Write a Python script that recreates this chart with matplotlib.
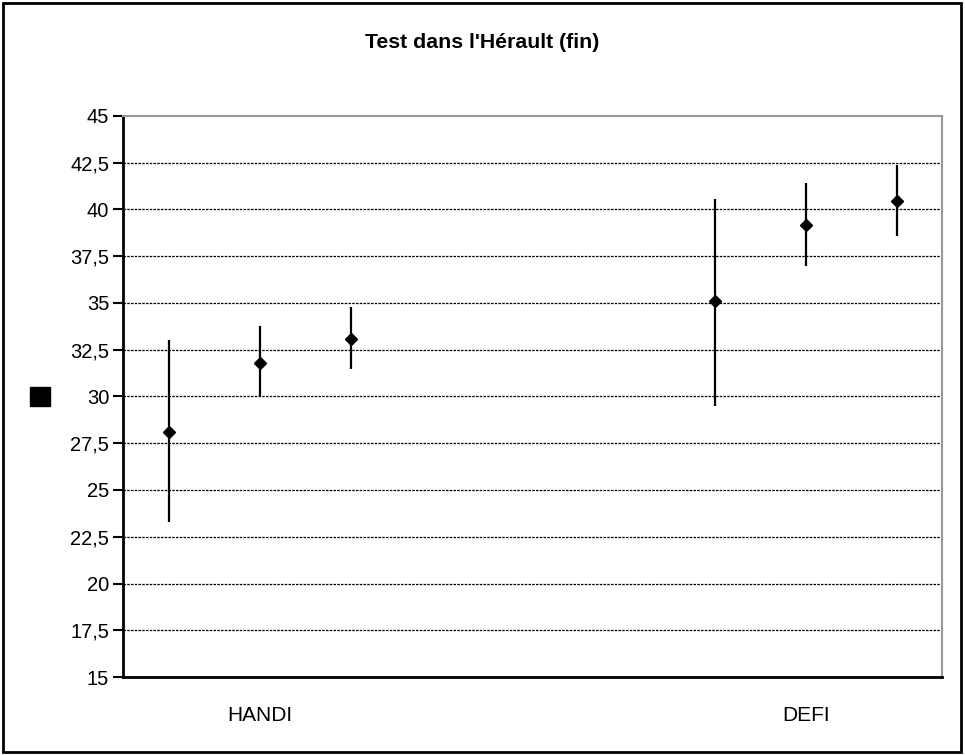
import numpy as np
import matplotlib.pyplot as plt
from matplotlib.patches import Rectangle

# Werte
positionen = [0, 1, 2, 6, 7, 8]
mittel = [28.1, 31.8, 33.05, 35.1, 39.15, 40.45]
oben = [33.0, 33.75, 34.8, 40.55, 41.4, 42.4]
unten = [23.3, 30.0, 31.45, 29.5, 37.0, 38.6]
kategorien = ["HANDI", "DEFI"]
kat_pos = [1, 7]
y_ticks = np.arange(15, 45.1, 2.5)

plt.rcParams['font.family'] = ['Liberation Sans', 'DejaVu Sans']

fig = plt.figure(figsize=(9.65, 7.55), dpi=100)
ax = fig.add_axes([0.1275, 0.1033, 0.849, 0.7431])

# --------------------- Fehlerbalken und Mittelwerte ---------------------
mittel = np.array(mittel)
yerr = [mittel - np.array(unten), np.array(oben) - mittel]
ax.errorbar(positionen, mittel, yerr=yerr, fmt='D', color='black', ms=6,
            elinewidth=1.6, capsize=0, zorder=3)

ax.set_xlim(-0.5, 8.5)
ax.set_ylim(15, 45)
ax.set_yticks(y_ticks)
ax.set_yticklabels([("%g" % v).replace('.', ',') for v in y_ticks], fontsize=14.5)
ax.set_xticks(kat_pos)
ax.set_xticklabels(kategorien, fontsize=15)
ax.tick_params(axis='x', length=0, pad=21)
ax.tick_params(axis='y', length=7, width=1.5, direction='out', pad=3)

# Gitterlinien
for v in y_ticks[1:-1]:
    ax.axhline(v, color='black', lw=0.9, ls=(0, (2, 1)), zorder=1)

for s in ['left', 'bottom']:
    ax.spines[s].set_linewidth(2)
    ax.spines[s].set_color('black')
for s in ['top', 'right']:
    ax.spines[s].set_linewidth(1.5)
    ax.spines[s].set_color('#999999')

fig.text(0.5, 1 - 43 / 755, "Test dans l'Hérault (fin)", ha='center', va='center',
         fontsize=15.3, fontweight='bold')

# Legenden-Quadrat ohne Text
fig.patches.append(Rectangle((30 / 965, 1 - 406 / 755), 20 / 965, 19 / 755,
                             transform=fig.transFigure, color='black'))
# Rahmen um das ganze Bild
fig.patches.append(Rectangle((3 / 965, 3 / 755), 958 / 965, 749 / 755,
                             transform=fig.transFigure, fill=False,
                             edgecolor='black', lw=2))

fig.savefig("out.png", dpi=100)
